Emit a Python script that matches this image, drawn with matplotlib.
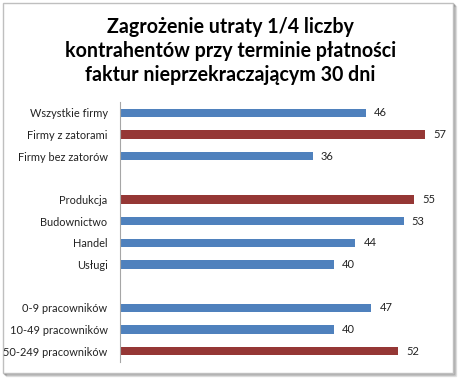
import numpy as np
import matplotlib.pyplot as plt
from matplotlib.patches import Rectangle

# data (empty strings are the gaps between groups)
labels = ['Wszystkie firmy', 'Firmy z zatorami', 'Firmy bez zatorów', '',
          'Produkcja', 'Budownictwo', 'Handel', 'Usługi', '',
          '0-9 pracowników', '10-49 pracowników', '50-249 pracowników']
values = [46, 57, 36, None, 55, 53, 44, 40, None, 47, 40, 52]
highlight = [False, True, False, False, True, False, False, False, False, False, False, True]
title = 'Zagrożenie utraty 1/4 liczby\nkontrahentów przy terminie płatności\nfaktur nieprzekraczającym 30 dni'

blue = '#4F81BD'
red = '#953735'

plt.rcParams['font.family'] = ['Lato', 'DejaVu Sans']

fig = plt.figure(figsize=(4.61, 3.81), dpi=100)
W, H = 461, 381

# frame with a soft shadow
for k, a in enumerate([0.10, 0.18, 0.28]):
    off = 3 - k
    fig.add_artist(Rectangle(((3 + off) / W, (H - 373 - off) / H), 450 / W, 370 / H,
                             transform=fig.transFigure, facecolor='none',
                             edgecolor=(0, 0, 0, a), lw=1.0, zorder=-3))
fig.add_artist(Rectangle((3 / W, (H - 373) / H), 450 / W, 370 / H,
                         transform=fig.transFigure, facecolor='white',
                         edgecolor='#BFBFBF', lw=1.0, zorder=-2))

fig.text(0.5, 1 - 51 / H, title, ha='center', va='center', fontsize=14.1,
         fontweight='bold', linespacing=1.27, color='#000000')

ax = fig.add_axes([120 / W, 1 - 362 / H, 321 / W, 260 / H])
ax.patch.set_alpha(0)
y = np.arange(len(labels))
for i, v in enumerate(values):
    if v is None:
        continue
    ax.barh(y[i], v, height=0.38, color=red if highlight[i] else blue)
    ax.text(v + 1.5, y[i], str(v), va='center', ha='left', fontsize=8, color='#222222')

ax.set_xlim(0, 60)
ax.set_ylim(len(labels) - 0.5, -0.5)
ax.set_yticks(y)
ax.set_yticklabels(labels, fontsize=7.9, color='#222222')
ax.tick_params(axis='y', length=0, pad=9)
ax.set_xticks([])
for s in ['top', 'right', 'bottom']:
    ax.spines[s].set_visible(False)
ax.spines['left'].set_color('#A6A6A6')
ax.spines['left'].set_linewidth(0.8)

fig.savefig('out.png', dpi=100)
